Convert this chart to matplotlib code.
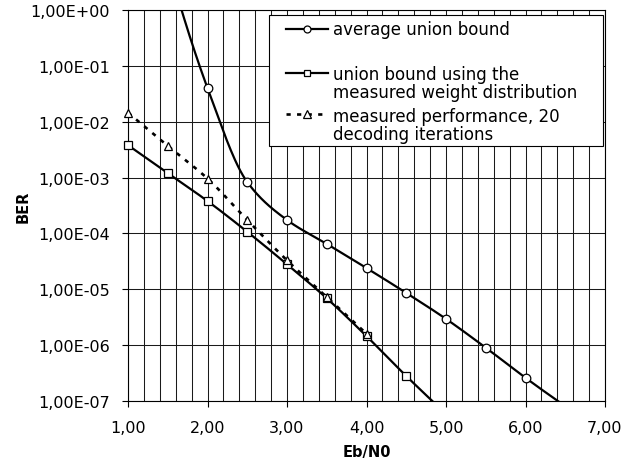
import numpy as np
import matplotlib
matplotlib.use("Agg")
import matplotlib.pyplot as plt
from matplotlib.lines import Line2D
from matplotlib.patches import Rectangle
from matplotlib.ticker import FixedLocator, FuncFormatter, NullLocator, MultipleLocator

# ---------------- data ----------------
ebn0_avg = [1.5, 2.0, 2.5, 3.0, 3.5, 4.0, 4.5, 5.0, 5.5, 6.0, 6.5]
ber_avg = [7.0, 4.0e-2, 8.3e-4, 1.74e-4, 6.5e-5, 2.4e-5, 8.6e-6, 2.95e-6, 9.0e-7, 2.6e-7, 8.1e-8]

ebn0_wd = [1.0, 1.5, 2.0, 2.5, 3.0, 3.5, 4.0, 4.5, 5.0]
ber_wd = [3.8e-3, 1.2e-3, 3.8e-4, 1.07e-4, 2.8e-5, 6.9e-6, 1.45e-6, 2.8e-7, 5.9e-8]

ebn0_sim = [1.0, 1.5, 2.0, 2.5, 3.0, 3.5, 4.0]
ber_sim = [1.45e-2, 3.7e-3, 9.6e-4, 1.74e-4, 3.3e-5, 7.3e-6, 1.6e-6]

labels = ["average union bound",
          "union bound using the\nmeasured weight distribution",
          "measured performance, 20\ndecoding iterations"]
xticks = [1, 2, 3, 4, 5, 6, 7]
yexps = [0, -1, -2, -3, -4, -5, -6, -7]

W, H = 623, 464
plt.rcParams["font.family"] = "DejaVu Sans"


def _pchip_slopes(x, y):
    h = np.diff(x)
    dl = np.diff(y) / h
    n = len(x)
    d = np.zeros(n)
    for k in range(1, n - 1):
        if dl[k - 1] * dl[k] > 0:
            w1 = 2 * h[k] + h[k - 1]
            w2 = h[k] + 2 * h[k - 1]
            d[k] = (w1 + w2) / (w1 / dl[k - 1] + w2 / dl[k])
    for k, (i0, i1) in ((0, (0, 1)), (n - 1, (n - 2, n - 3))):
        if n < 3:
            d[k] = dl[0]
            continue
        h0, h1 = h[i0], h[i1]
        e0, e1 = dl[i0], dl[i1]
        v = ((2 * h0 + h1) * e0 - h0 * e1) / (h0 + h1)
        if np.sign(v) != np.sign(e0):
            v = 0.0
        elif np.sign(e0) != np.sign(e1) and abs(v) > abs(3 * e0):
            v = 3 * e0
        d[k] = v
    return d


def smooth(xs, ys, n=30):
    """Smoothed line through the points (monotone cubic in x / log10 y space)."""
    x = np.asarray(xs, float)
    y = np.log10(np.asarray(ys, float))
    d = _pchip_slopes(x, y)
    ox, oy = [], []
    for i in range(len(x) - 1):
        h = x[i + 1] - x[i]
        t = np.linspace(0, 1, n)
        if i > 0:
            t = t[1:]
        h00 = 2 * t ** 3 - 3 * t ** 2 + 1
        h10 = t ** 3 - 2 * t ** 2 + t
        h01 = -2 * t ** 3 + 3 * t ** 2
        h11 = t ** 3 - t ** 2
        ox.append(x[i] + t * h)
        oy.append(h00 * y[i] + h10 * h * d[i] + h01 * y[i + 1] + h11 * h * d[i + 1])
    return np.concatenate(ox), 10 ** np.concatenate(oy)


def visible(xs, ys):
    xs = np.asarray(xs, float)
    ys = np.asarray(ys, float)
    m = (ys >= 1e-7 * 0.999) & (ys <= 1.0) & (xs >= 1) & (xs <= 7)
    return xs[m], ys[m]


fig = plt.figure(figsize=(W / 100, H / 100), dpi=100)
L, R, T, B = 128, 605, 11, 402
ax = fig.add_axes([L / W, 1 - B / H, (R - L) / W, (B - T) / H])
ax.set_yscale("log")
ax.set_xlim(1, 7)
ax.set_ylim(1e-7, 1)

# grid
ax.xaxis.set_major_locator(FixedLocator(xticks))
ax.xaxis.set_minor_locator(MultipleLocator(0.2))
ax.yaxis.set_major_locator(FixedLocator([10.0 ** e for e in yexps]))
ax.yaxis.set_minor_locator(NullLocator())
ax.grid(True, which="both", axis="x", color="#1a1a1a", lw=0.75)
ax.grid(True, which="major", axis="y", color="#1a1a1a", lw=0.75)
ax.set_axisbelow(True)

ax.xaxis.set_major_formatter(FuncFormatter(lambda v, p: f"{v:.2f}".replace(".", ",")))
ax.yaxis.set_major_formatter(FuncFormatter(lambda v, p: "1,00E{:+03d}".format(int(round(np.log10(v))))))
ax.tick_params(axis="both", which="major", direction="out", length=4.5, width=0.8,
               labelsize=11.5, colors="black")
ax.tick_params(axis="y", pad=8.5)
ax.tick_params(axis="x", pad=9.5)
ax.tick_params(axis="x", which="minor", length=0)
for sp in ax.spines.values():
    sp.set_color("black")
    sp.set_linewidth(0.8)

ax.set_ylabel("BER", fontsize=10.5, fontweight="bold")
ax.set_xlabel("Eb/N0", fontsize=10.5, fontweight="bold")
ax.yaxis.set_label_coords(-0.22, 0.5)
ax.xaxis.set_label_coords(0.5, -0.128)
ax.xaxis.label.set_va("center")
ax.yaxis.label.set_va("center")

lw = 1.6
dash_lw = 1.9
dash = (0, (1.6, 2.4))
# average union bound
sx, sy = smooth(ebn0_avg, ber_avg)
ax.plot(sx, sy, color="black", lw=lw, zorder=3)
vx, vy = visible(ebn0_avg, ber_avg)
ax.plot(vx, vy, ls="none", marker="o", ms=6.2, mfc="white", mec="black", mew=0.9, zorder=4, clip_on=False)
# union bound measured weight distribution
sx, sy = smooth(ebn0_wd, ber_wd)
ax.plot(sx, sy, color="black", lw=lw, zorder=3)
vx, vy = visible(ebn0_wd, ber_wd)
ax.plot(vx, vy, ls="none", marker="s", ms=5.6, mfc="white", mec="black", mew=0.9, zorder=4, clip_on=False)
# measured performance
sx, sy = smooth(ebn0_sim, ber_sim)
ax.plot(sx, sy, color="black", lw=dash_lw, ls=dash, dash_capstyle="butt", zorder=3)
vx, vy = visible(ebn0_sim, ber_sim)
ax.plot(vx, vy, ls="none", marker="^", ms=6, mfc="white", mec="black", mew=0.9, zorder=5, clip_on=False)


# ---------------- legend (laid out as in the reference) ----------------
def fx(x):
    return x / W


def fy(y):
    return 1 - y / H


box = Rectangle((fx(269), fy(147)), fx(603) - fx(269), fy(16) - fy(147),
                transform=fig.transFigure, facecolor="white", edgecolor="black", lw=0.8, zorder=10)
fig.patches.append(box)

handle_y = [30, 74, 115]
text_y = [30, 84, 126]
styles = [dict(ls="-", lw=lw, marker="o", ms=5),
          dict(ls="-", lw=lw, marker="s", ms=5),
          dict(ls=dash, lw=dash_lw, marker="^", ms=5.5)]
for hy, ty, lab, st in zip(handle_y, text_y, labels, styles):
    fig.add_artist(Line2D([fx(286), fx(328)], [fy(hy), fy(hy)], transform=fig.transFigure,
                          color="black", ls=st["ls"], lw=st["lw"], dash_capstyle="butt", zorder=11))
    fig.add_artist(Line2D([fx(307)], [fy(hy)], transform=fig.transFigure, ls="none",
                          marker=st["marker"], ms=st["ms"], mfc="white", mec="black", mew=0.9, zorder=12))
    fig.text(fx(333), fy(ty), lab, fontsize=12, va="center", ha="left", linespacing=0.96, zorder=12)

fig.savefig("out.png", dpi=100)
